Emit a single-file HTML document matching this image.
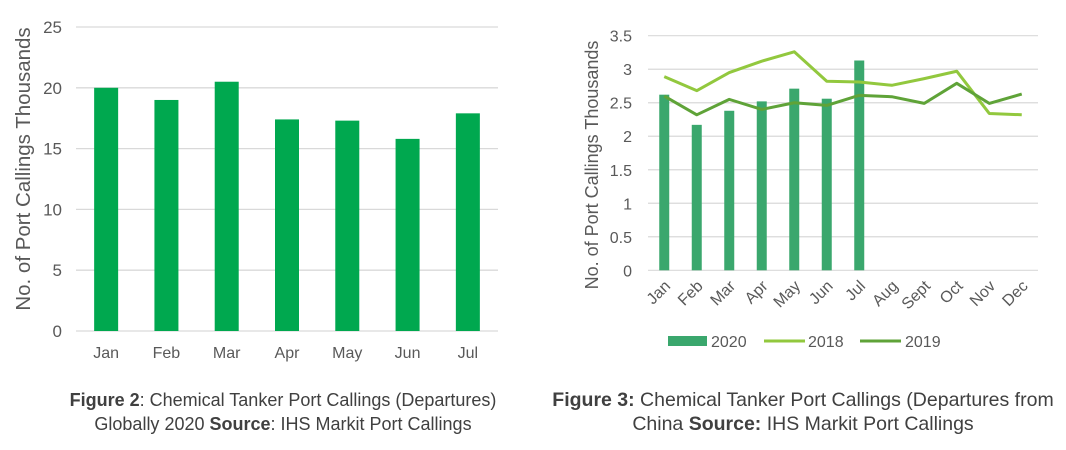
<!DOCTYPE html>
<html><head><meta charset="utf-8"><style>
body{margin:0;width:1066px;height:450px;background:#fff;overflow:hidden;font-family:"Liberation Sans",Arial,sans-serif}
.cap{position:absolute;text-align:center;font-size:18px;color:#404040;line-height:24px;white-space:nowrap}
</style></head><body>
<svg id="c1" width="1066" height="450" style="position:absolute;left:0;top:0" font-family="Liberation Sans, Arial, sans-serif"></svg>
<div class="cap" style="left:0px;top:388px;width:566px"><b>Figure 2</b>: Chemical Tanker Port Callings (Departures)<br>Globally 2020 <b>Source</b>: IHS Markit Port Callings</div>
<div class="cap" style="left:540px;top:388px;width:526px;font-size:19.5px"><b>Figure 3:</b> Chemical Tanker Port Callings (Departures from<br>China <b>Source:</b> IHS Markit Port Callings</div>
<script>
const months1=["Jan","Feb","Mar","Apr","May","Jun","Jul"];
const values1=[20,19,20.5,17.4,17.3,15.8,17.9];
const ticks1=[0,5,10,15,20,25];
const months2=["Jan","Feb","Mar","Apr","May","Jun","Jul","Aug","Sept","Oct","Nov","Dec"];
const bars2020=[2.62,2.17,2.38,2.52,2.71,2.56,3.13];
const line2018=[2.89,2.68,2.95,3.12,3.26,2.82,2.81,2.76,2.86,2.97,2.34,2.32];
const line2019=[2.6,2.32,2.55,2.4,2.5,2.46,2.61,2.59,2.49,2.79,2.49,2.63];
const ticks2=[0,0.5,1,1.5,2,2.5,3,3.5];
const NS="http://www.w3.org/2000/svg";
const svg=document.getElementById('c1');
function mk(t,a,txt){const e=document.createElementNS(NS,t);for(const k in a)e.setAttribute(k,a[k]);if(txt!=null)e.textContent=txt;svg.appendChild(e);return e;}
// chart 1
const x1=i=>76+(i+0.5)*(422/7), y1=v=>331-v*(304/25);
ticks1.forEach(t=>{
 const g=mk('line',{x1:76,x2:498,y1:y1(t),y2:y1(t),stroke:'#d9d9d9','stroke-width':1.3});
 
 const l=mk('text',{x:62,y:y1(t)+6,'text-anchor':'end','font-size':17,fill:'#595959'},t);
 
});
values1.forEach((v,i)=>{
 const b=mk('rect',{x:x1(i)-12,y:y1(v),width:24,height:y1(0)-y1(v),fill:'#00a84f'});
 
 const l=mk('text',{x:x1(i),y:358,'text-anchor':'middle','font-size':16,fill:'#595959'},months1[i]);
 
});
const t1=mk('text',{x:0,y:0,transform:'translate(30,169) rotate(-90)','text-anchor':'middle','font-size':20.5,fill:'#595959'},'No. of Port Callings Thousands');

// chart 2
const x2=i=>648+(i+0.5)*(390/12), y2=v=>270.3-v*(234.6/3.5);
ticks2.forEach(t=>{
 const g=mk('line',{x1:648,x2:1038,y1:y2(t),y2:y2(t),stroke:'#d9d9d9','stroke-width':1.2});
 
 const l=mk('text',{x:632,y:y2(t)+6,'text-anchor':'end','font-size':16,fill:'#595959'},t);
 
});
bars2020.forEach((v,i)=>{
 const b=mk('rect',{x:x2(i)-5,y:y2(v),width:10,height:y2(0)-y2(v),fill:'#3aa76d'});
 
});
const p18=mk('polyline',{points:line2018.map((v,i)=>x2(i)+','+y2(v)).join(' '),fill:'none',stroke:'#92c83e','stroke-width':3,'stroke-linejoin':'round'});

const p19=mk('polyline',{points:line2019.map((v,i)=>x2(i)+','+y2(v)).join(' '),fill:'none',stroke:'#5fa338','stroke-width':3,'stroke-linejoin':'round'});

months2.forEach((m,i)=>{
 const l=mk('text',{x:0,y:0,transform:`translate(${x2(i)+7},${287}) rotate(-45)`,'text-anchor':'end','font-size':16,fill:'#595959'},m);
 
});
const t2=mk('text',{x:0,y:0,transform:'translate(598,165) rotate(-90)','text-anchor':'middle','font-size':18,fill:'#595959'},'No. of Port Callings Thousands');

// legend
const lg1=mk('rect',{x:668,y:336,width:39,height:10,fill:'#3aa76d'});

const lt1=mk('text',{x:711,y:347,'font-size':16,fill:'#595959'},'2020');

const lg2=mk('line',{x1:764,x2:805,y1:341,y2:341,stroke:'#92c83e','stroke-width':3});

const lt2=mk('text',{x:808,y:347,'font-size':16,fill:'#595959'},'2018');

const lg3=mk('line',{x1:860,x2:901,y1:341,y2:341,stroke:'#5fa338','stroke-width':3});

const lt3=mk('text',{x:905,y:347,'font-size':16,fill:'#595959'},'2019');

</script>
</body></html>
